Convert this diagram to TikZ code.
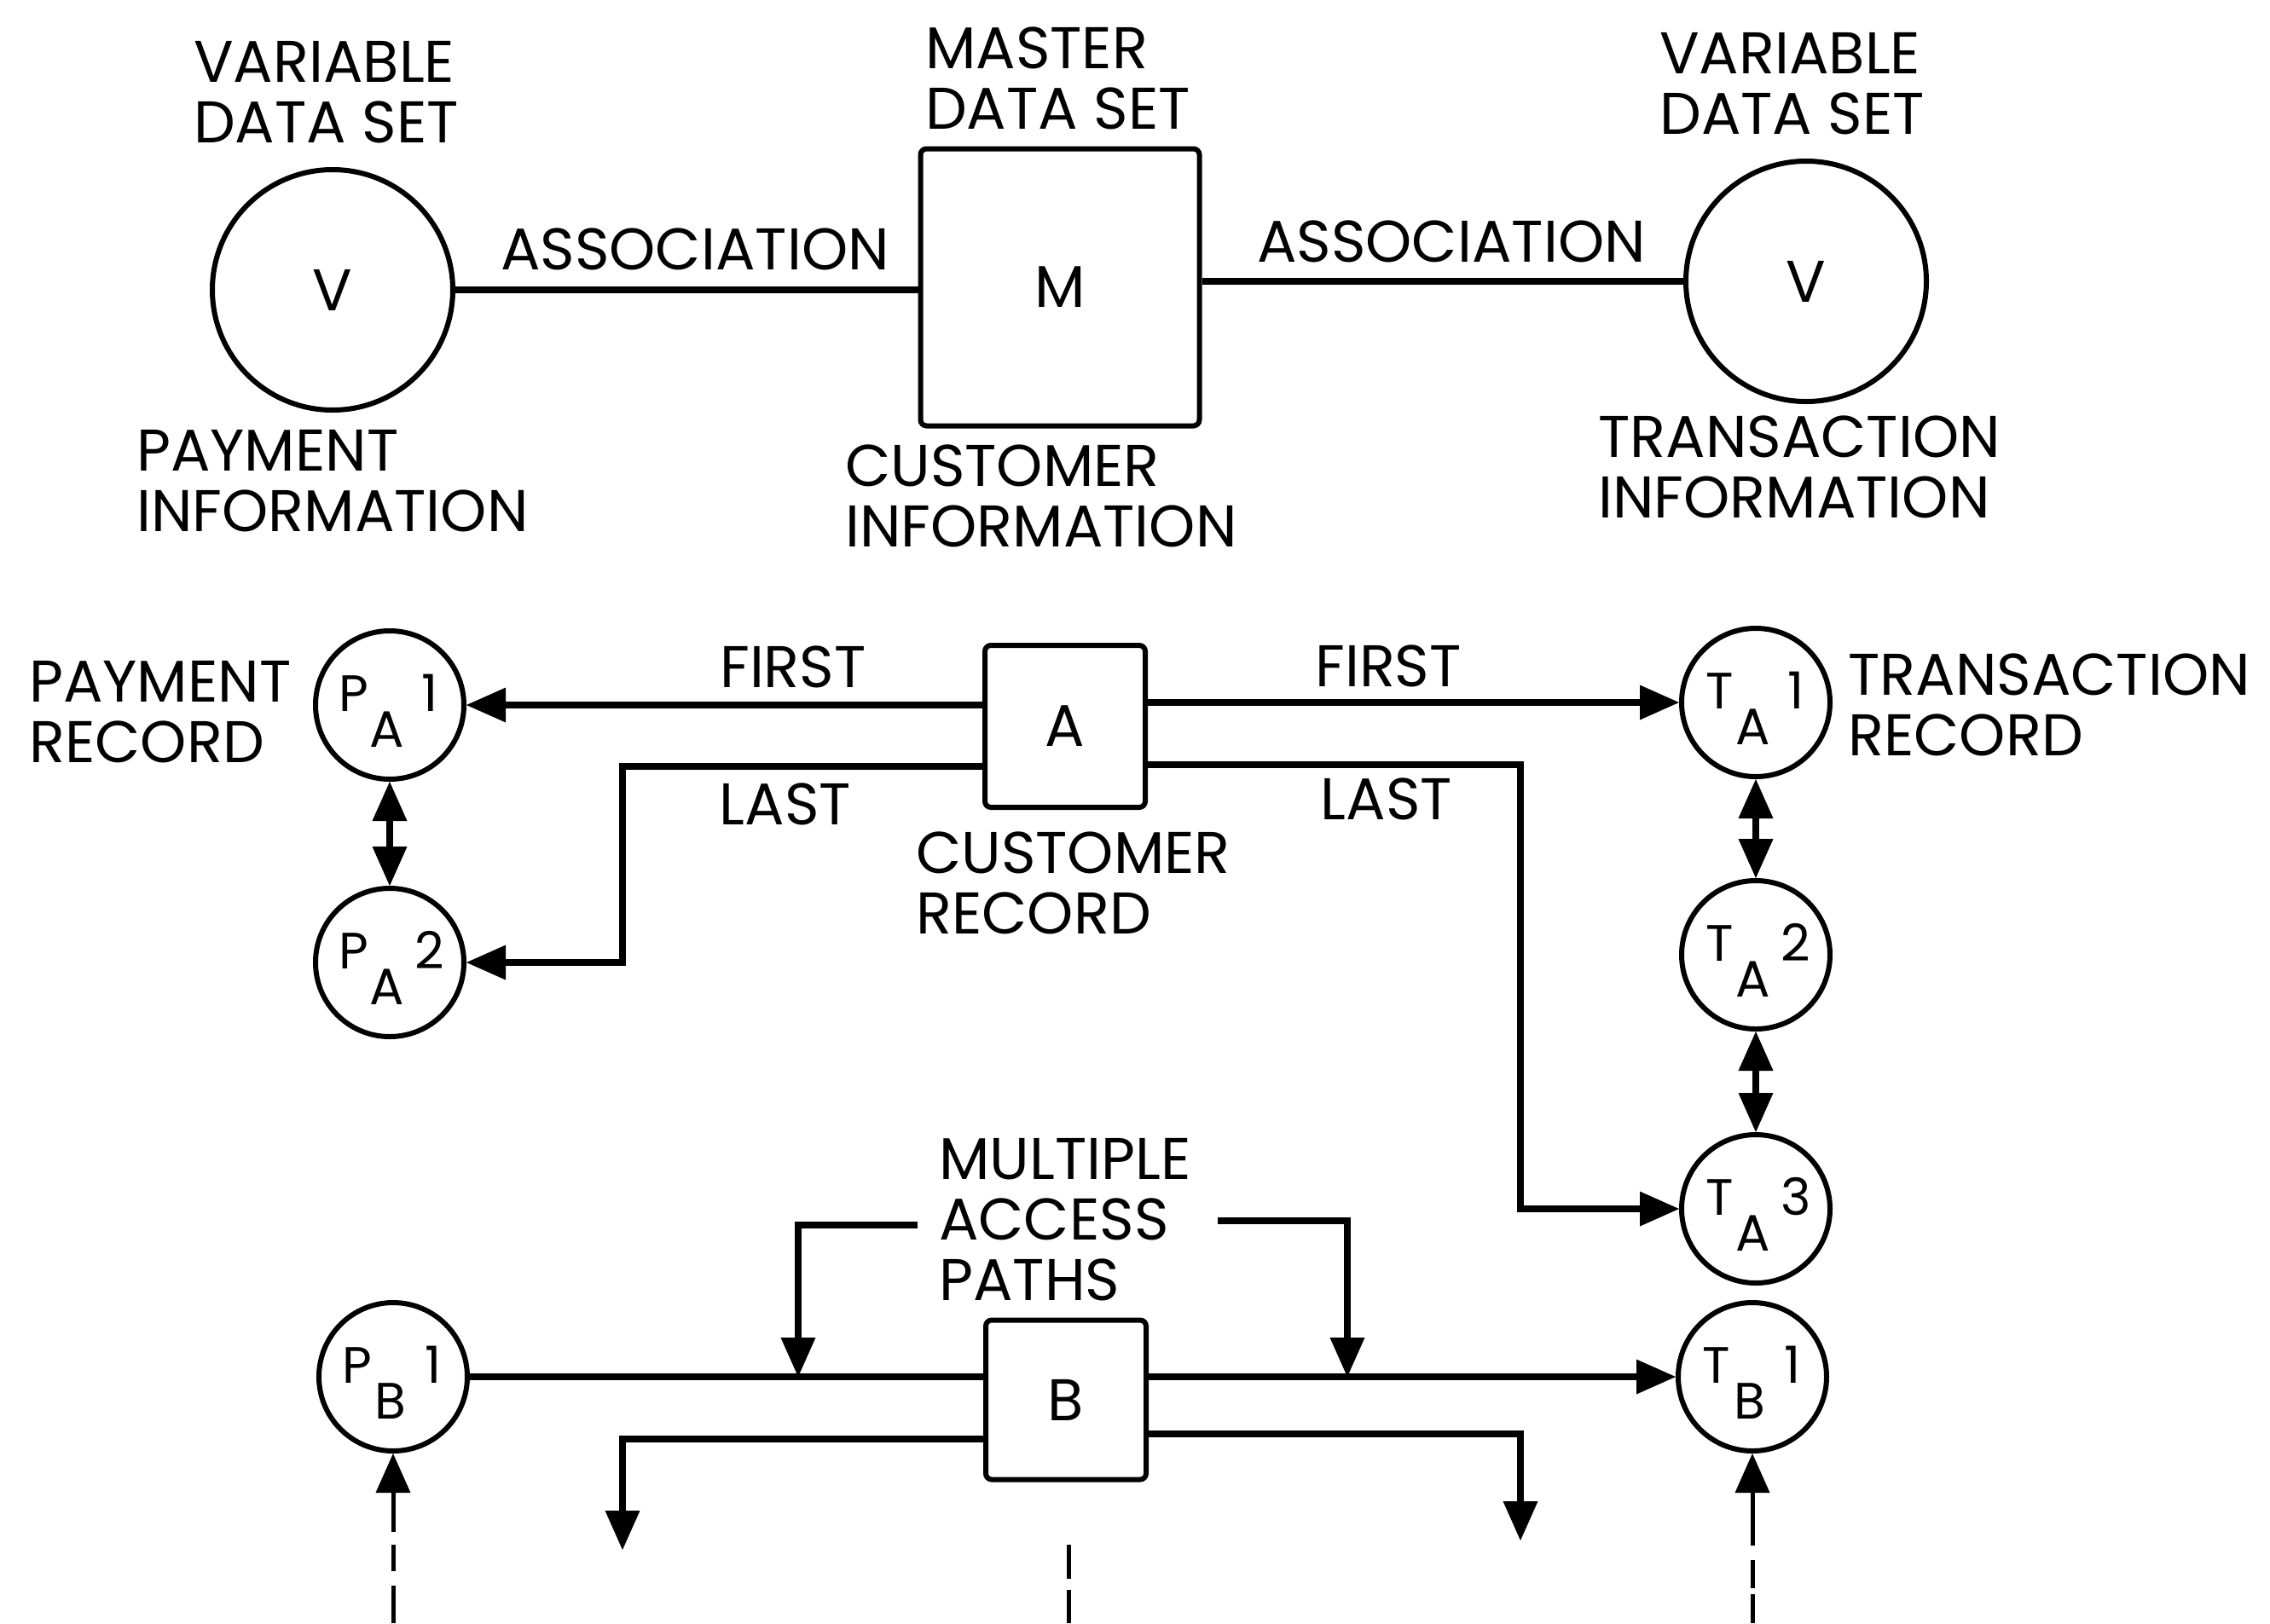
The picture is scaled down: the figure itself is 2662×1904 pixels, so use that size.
\documentclass[tikz,border=0pt]{standalone}
\usepackage{fontspec}
\setmainfont{Poppins}
\usetikzlibrary{arrows.meta}
\newcommand\reclab[3]{\rule{0pt}{56pt}\hspace*{-42pt}\makebox[0pt]{#1}\hspace*{39pt}\makebox[0pt]{\raisebox{-42pt}{#2}}\hspace*{50pt}\makebox[0pt]{#3}\hspace*{-47pt}}
\begin{document}
\begin{tikzpicture}[x=1pt,y=-1pt,
  >={Triangle[length=46pt,width=41pt,line width=0pt]},
  every node/.style={font=\fontsize{69pt}{71pt}\selectfont, inner sep=0pt},
  conn/.style={line width=7.5pt},
  dconn/.style={line width=5pt},
  recc/.style={circle, draw, line width=6pt, minimum size=174pt, font=\fontsize{60pt}{60pt}\selectfont},
  bigc/.style={circle, draw, line width=6pt, minimum size=282pt},
  boxn/.style={rectangle, draw, line width=6pt, rounded corners=7pt},
  lbl/.style={align=left, anchor=west}
]
\fill[white] (0,0) rectangle (2662,1904);
\useasboundingbox (0,0) rectangle (2662,1904);

% ---------- top row ----------
\node[bigc] (V1) at (390,340) {V};
\node[boxn, minimum width=327pt, minimum height=325pt] (M) at (1243,337) {M};
\node[bigc] (V2) at (2118,330) {V};
\draw[conn] (V1.east) -- (V1.east -| M.west);
\draw[conn] (V2.west -| M.east) -- (V2.west);

\node[lbl] (tV1) at (227,108) {VARIABLE\\DATA SET};
\node[lbl] (tM) at (1085,92) {MASTER\\DATA SET};
\node[lbl] (tV2) at (1946,98) {VARIABLE\\DATA SET};
\node (as1) at (815,292) {ASSOCIATION};
\node (as2) at (1702,283) {ASSOCIATION};
\node[lbl] (tPay) at (160,564) {PAYMENT\\INFORMATION};
\node[lbl] (tCust) at (991,582) {CUSTOMER\\INFORMATION};
\node[lbl] (tTrans) at (1874,548) {TRANSACTION\\INFORMATION};

% ---------- middle ----------
\node[recc] (PA1) at (457,827) {\reclab{P}{A}{1}};
\node[recc] (PA2) at (457,1129) {\reclab{P}{A}{2}};
\node[boxn, minimum width=188pt, minimum height=190pt] (A) at (1249,852) {A};
\node[recc] (TA1) at (2059,824) {\reclab{T}{A}{1}};
\node[recc] (TA2) at (2059,1120) {\reclab{T}{A}{2}};
\node[recc] (TA3) at (2059,1418) {\reclab{T}{A}{3}};

\draw[conn,->] (PA1.east -| A.west) -- (PA1.east);
\draw[conn,->] (TA1.west -| A.east) -- (TA1.west);
\coordinate (l1) at (730,899);
\draw[conn,->] (l1 -| A.west) -- (l1) |- (PA2.east);
\coordinate (l2) at (1783,897);
\draw[conn,->] (l2 -| A.east) -- (l2) |- (TA3.west);
\draw[conn,<->] (PA1.south) -- (PA2.north);
\draw[conn,<->] (TA1.south) -- (TA2.north);
\draw[conn,<->] (TA2.south) -- (TA3.north);

\node (f1) at (930,782) {FIRST};
\node (la1) at (921,943) {LAST};
\node (f2) at (1628,781) {FIRST};
\node (la2) at (1626,937) {LAST};
\node[lbl] (tPR) at (34,835) {PAYMENT\\RECORD};
\node[lbl] (tCR) at (1074,1036) {CUSTOMER\\RECORD};
\node[lbl] (tTR) at (2167,827) {TRANSACTION\\RECORD};

% ---------- bottom ----------
\node[lbl] (tMAP) at (1101,1431) {MULTIPLE\\ACCESS\\PATHS};
\node[recc] (PB1) at (461,1615) {\reclab{P}{B}{1}};
\node[boxn, minimum width=188pt, minimum height=187pt] (B) at (1250,1642) {B};
\node[recc] (TB1) at (2055,1615) {\reclab{T}{B}{1}};
\draw[conn] (PB1.east) -- (PB1.east -| B.west);
\draw[conn,->] (TB1.west -| B.east) -- (TB1.west);
\coordinate (b1) at (730,1688); \coordinate (b1e) at (730,1818);
\draw[conn,->] (b1 -| B.west) -- (b1) -- (b1e);
\coordinate (b2) at (1783,1682); \coordinate (b2e) at (1783,1807);
\draw[conn,->] (b2 -| B.east) -- (b2) -- (b2e);

\coordinate (m1s) at (1076,1437); \coordinate (m1c) at (936,1437);
\draw[conn,->] (m1s) -- (m1c) -- (m1c |- PB1.east);
\coordinate (m2s) at (1428,1432); \coordinate (m2c) at (1580,1432);
\draw[conn,->] (m2s) -- (m2c) -- (m2c |- TB1.west);

\coordinate (pbd) at (461,1904);
\draw[dconn,->,dash pattern=on 44pt off 17pt on 31pt off 15pt on 400pt] (pbd) -- (PB1.south);
\coordinate (tbd) at (2055,1904);
\draw[dconn,->,dash pattern=on 34pt off 7pt on 33pt off 17pt on 400pt] (tbd) -- (TB1.south);
\coordinate (md1) at (1253,1904); \coordinate (md2) at (1253,1812);
\draw[dconn,dash pattern=on 39pt off 13pt on 60pt] (md1) -- (md2);
\end{tikzpicture}
\end{document}
